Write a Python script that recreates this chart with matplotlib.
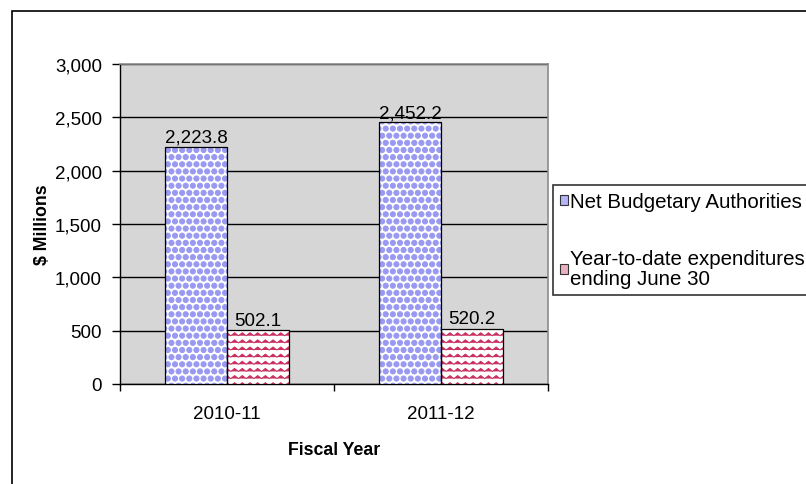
import numpy as np
import matplotlib
matplotlib.use("Agg")
import matplotlib.pyplot as plt
import matplotlib.hatch as mhatch
from matplotlib.path import Path
from matplotlib.patches import Rectangle, Patch

# data
years = ["2010-11", "2011-12"]
authorities = [2223.8, 2452.2]
expenditures = [502.1, 520.2]
series_names = ["Net Budgetary Authorities", "Year-to-date expenditures\nending June 30"]
y_ticks = [0, 500, 1000, 1500, 2000, 2500, 3000]


# custom hatches: zigzag lines ('~') and big filled dots ('@')
class ZigZagHatch(mhatch.HatchPatternBase):
    def __init__(self, hatch, density):
        self.num_lines = hatch.count('~') * 7
        self.periods = 13
        self.num_vertices = self.num_lines * (2 * self.periods + 1)

    def set_vertices_and_codes(self, vertices, codes):
        npts = 2 * self.periods + 1
        xs = np.linspace(0, 1, npts)
        offs = np.where(np.arange(npts) % 2 == 0, 0.0, 0.42 / self.num_lines)
        for i in range(self.num_lines):
            sl = slice(i * npts, (i + 1) * npts)
            vertices[sl, 0] = xs
            vertices[sl, 1] = i / self.num_lines + offs
            codes[sl] = Path.LINETO
            codes[i * npts] = Path.MOVETO


class BigDots(mhatch.Circles):
    size = 0.36
    filled = True

    def __init__(self, hatch, density):
        self.num_rows = hatch.count('@') * 7
        super().__init__(hatch, density)


mhatch._hatch_types.extend([ZigZagHatch, BigDots])

plt.rcParams['font.family'] = ['Liberation Sans', 'DejaVu Sans']
plt.rcParams['hatch.linewidth'] = 0.7

fs = 13.5

fig = plt.figure(figsize=(8.06, 4.85), dpi=100)
ax = fig.add_axes([120 / 806, 100 / 485, 428 / 806, 320 / 485])
ax.set_facecolor('#d6d6d6')

x = np.arange(len(years))
w = 0.29
b1 = ax.bar(x - w / 2, authorities, w, color='white', edgecolor='#9999f2',
            hatch='@@', linewidth=0, zorder=3)
b2 = ax.bar(x + w / 2, expenditures, w, color='white', edgecolor='#c83060',
            hatch='~~', linewidth=0, zorder=3)
# black outlines
ax.bar(x - w / 2, authorities, w, fill=False, edgecolor='black', linewidth=0.9, zorder=4)
ax.bar(x + w / 2, expenditures, w, fill=False, edgecolor='black', linewidth=0.9, zorder=4)

ax.bar_label(b1, labels=[f"{v:,.1f}" for v in authorities], padding=1, fontsize=fs)
ax.bar_label(b2, labels=[f"{v:,.1f}" for v in expenditures], padding=1, fontsize=fs)

ax.set_ylim(0, 3000)
ax.set_xlim(-0.5, len(years) - 0.5)
ax.set_yticks(y_ticks)
ax.set_yticklabels([f"{v:,}" for v in y_ticks], fontsize=fs)
ax.yaxis.grid(True, color='black', linewidth=1.0, zorder=1)
ax.set_axisbelow(True)
ax.tick_params(axis='y', direction='out', length=6, width=1, pad=7)

ax.set_xticks(x)
ax.set_xticklabels(years, fontsize=fs)
ax.set_xticks(np.arange(len(years) + 1) - 0.5, minor=True)
ax.tick_params(axis='x', which='major', length=0, pad=15)
ax.tick_params(axis='x', which='minor', direction='out', length=5, width=1)

for side in ['top', 'right']:
    ax.spines[side].set_color('#8c8c8c')
    ax.spines[side].set_linewidth(1.2)
for side in ['left', 'bottom']:
    ax.spines[side].set_color('black')
    ax.spines[side].set_linewidth(1.0)

ax.set_ylabel("\\$ Millions", fontsize=12.8, fontweight='bold', labelpad=3)
ax.set_xlabel("Fiscal Year", fontsize=12.8, fontweight='bold', labelpad=14)

handles = [Patch(facecolor='#b4b4f7', edgecolor='#333333', linewidth=0.8),
           Patch(facecolor='#eab0c0', edgecolor='#333333', linewidth=0.8)]
leg = fig.legend(handles=handles, labels=series_names, loc='upper left',
                 bbox_to_anchor=(553 / 806, 1 - 186 / 485), fontsize=14.8,
                 frameon=True, fancybox=False, edgecolor='black',
                 handlelength=0.4, handleheight=0.4, handletextpad=0.1,
                 labelspacing=1.85, borderpad=0.35, borderaxespad=0)
leg.get_frame().set_linewidth(1.2)
for t in leg.get_texts():
    t.set_linespacing(1.05)

# outer chart frame
fig.add_artist(Rectangle((12 / 806, -0.1), 1.1, 1.1 - 12 / 485,
                         transform=fig.transFigure, fill=False,
                         edgecolor='black', linewidth=1.2))

fig.savefig("out.png", dpi=100)
